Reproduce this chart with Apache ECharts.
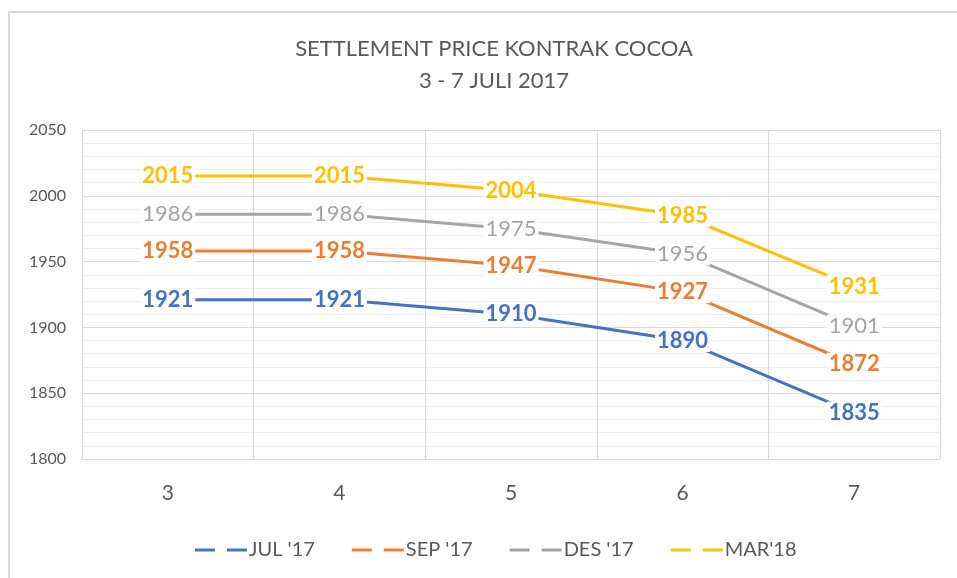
<!DOCTYPE html>
<html>
<head>
<meta charset="utf-8">
<script src="https://cdn.jsdelivr.net/npm/echarts@6/dist/echarts.min.js"></script>
<style>html,body{margin:0;padding:0;background:#fff;}#c{width:957px;height:578px;}</style>
</head>
<body>
<div id="c"></div>
<script>
const categories = ['3', '4', '5', '6', '7'];
const seriesNames = ["JUL '17", "SEP '17", "DES '17", "MAR'18"];
const jul17 = [1921, 1921, 1910, 1890, 1835];
const sep17 = [1958, 1958, 1947, 1927, 1872];
const des17 = [1986, 1986, 1975, 1956, 1901];
const mar18 = [2015, 2015, 2004, 1985, 1931];
const yTicks = [1800, 1850, 1900, 1950, 2000, 2050];

const colors = ['#4472C4', '#ED7D31', '#A5A5A5', '#FFC000'];
const weights = ['bold', 'bold', 'normal', 'bold'];
const allData = [jul17, sep17, des17, mar18];
const FONT = 'Lato, "Open Sans", sans-serif';

const chart = echarts.init(document.getElementById('c'));
chart.setOption({
  animation: false,
  title: {
    text: 'SETTLEMENT PRICE KONTRAK COCOA\n3 - 7 JULI 2017',
    left: 489,
    textAlign: 'center',
    top: 28,
    textStyle: { color: '#595959', fontSize: 22, fontWeight: 'normal', fontFamily: FONT, lineHeight: 32 }
  },
  graphic: [{
    type: 'rect',
    shape: { x: 9, y: 12, width: 960, height: 580 },
    style: { fill: 'none', stroke: '#d9d9d9', lineWidth: 2 },
    silent: true, z: -1
  }],
  grid: { left: 82, right: 17, top: 130, bottom: 119 },
  legend: {
    bottom: 13,
    left: 190,
    itemGap: 37,
    itemWidth: 52,
    itemHeight: 3,
    icon: 'path://M0,0h20v3h-20z M32,0h20v3h-20z',
    textStyle: { color: '#595959', fontSize: 20, fontFamily: FONT, padding: [0, 0, 0, -3] },
    data: seriesNames.map((n, i) => ({ name: n, itemStyle: { color: colors[i], opacity: 1 } }))
  },
  xAxis: {
    type: 'category',
    data: categories,
    boundaryGap: true,
    axisLine: { show: true, lineStyle: { color: '#d9d9d9', width: 1 } },
    axisTick: { show: false },
    splitLine: { show: true, lineStyle: { color: '#d9d9d9', width: 1 } },
    axisLabel: { color: '#595959', fontSize: 21, fontFamily: FONT, margin: 24 }
  },
  yAxis: {
    type: 'value',
    min: yTicks[0],
    max: yTicks[yTicks.length - 1],
    interval: 50,
    axisLine: { show: false },
    axisTick: { show: false },
    axisLabel: { color: '#595959', fontSize: 16, fontFamily: FONT, margin: 16, formatter: v => String(v) },
    splitLine: { show: true, lineStyle: { color: '#d9d9d9', width: 1 } },
    minorTick: { show: false, splitNumber: 5 },
    minorSplitLine: { show: true, lineStyle: { color: '#efefef', width: 1 } }
  },
  series: allData.map((d, i) => ({
    name: seriesNames[i],
    type: 'line',
    data: d,
    symbol: 'circle',
    symbolSize: 2,
    showSymbol: true,
    itemStyle: { color: colors[i] },
    color: colors[i],
    lineStyle: { width: 3, color: colors[i] },
    label: {
      show: true,
      position: 'inside',
      color: colors[i],
      fontSize: 22,
      fontWeight: weights[i],
      fontFamily: FONT,
      backgroundColor: '#ffffff',
      padding: [1, 2, 0, 2]
    },
    labelLayout: { hideOverlap: false }
  }))
});
</script>
</body>
</html>
